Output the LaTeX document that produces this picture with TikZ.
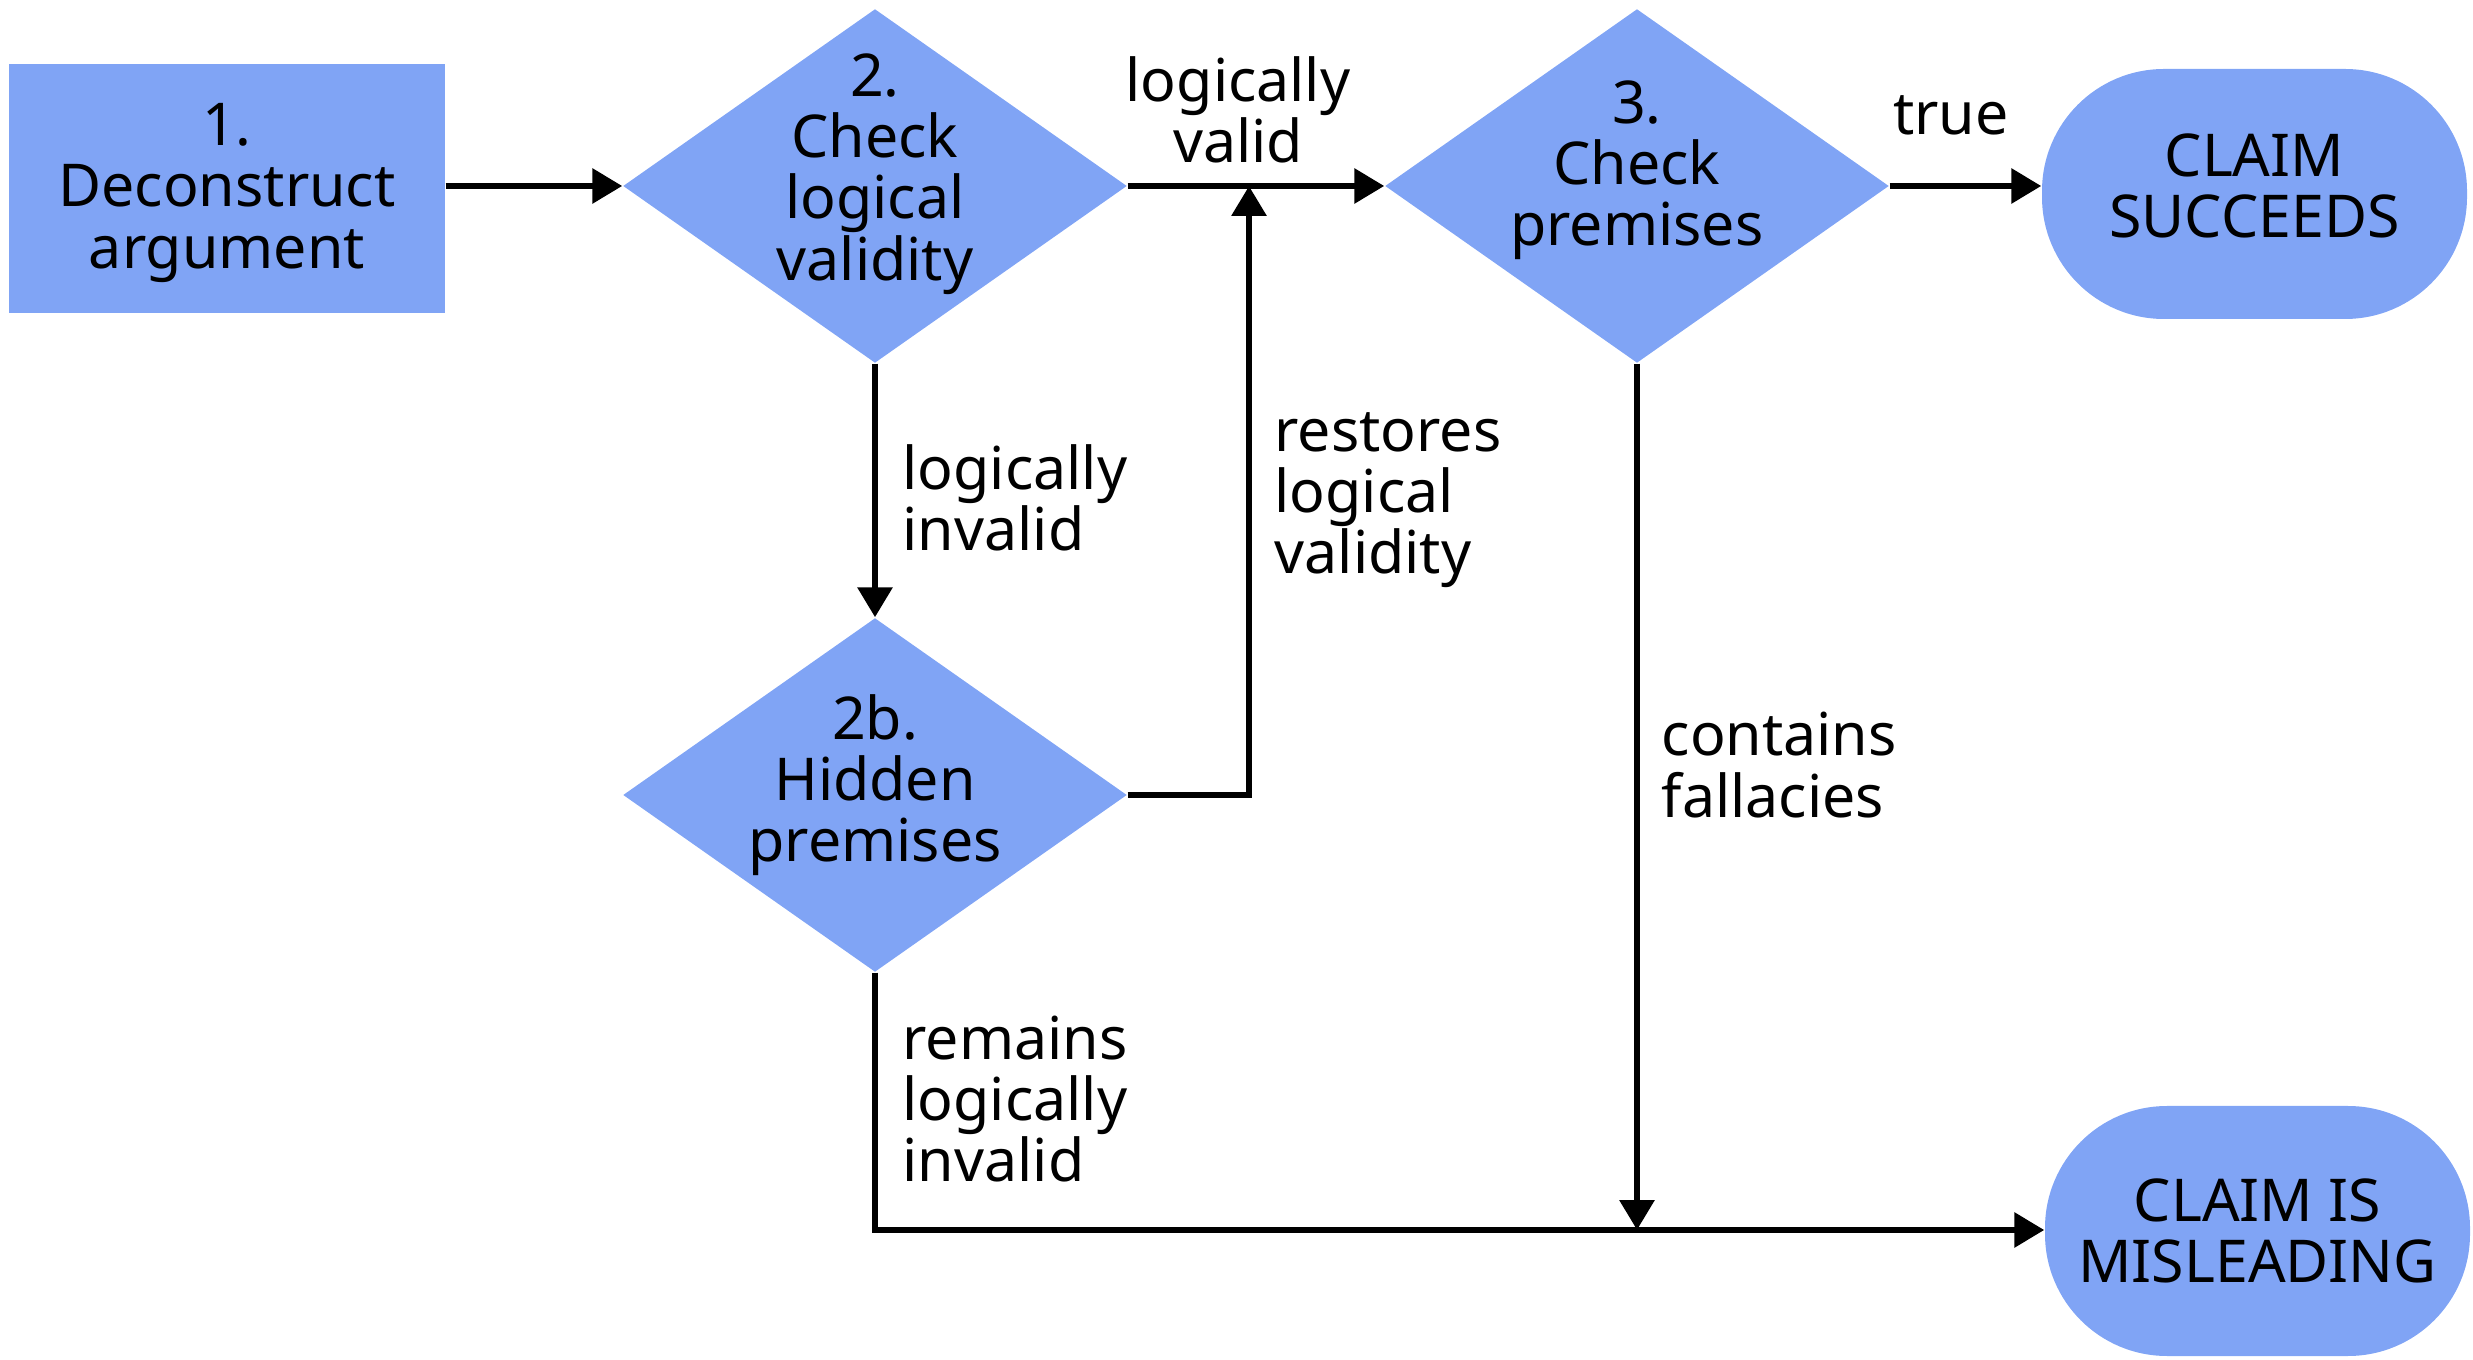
\documentclass[tikz,border=0pt]{standalone}
\usepackage{fontspec}
\setmainfont{Noto Sans}
\usetikzlibrary{shapes.geometric,arrows.meta}
\definecolor{stepblue}{RGB}{128,164,245}
\tikzset{
  txt/.style={font=\fontsize{16.8}{17.4}\selectfont, align=center, inner sep=0pt},
  lbl/.style={font=\fontsize{16.8}{17.4}\selectfont, align=left, inner sep=0pt, text=black},
  procbox/.style={draw=none, fill=stepblue, rectangle, minimum width=4.36cm, minimum height=2.49cm, txt},
  decision/.style={draw=none, fill=stepblue, diamond, minimum width=5.04cm, minimum height=3.54cm, inner sep=0pt},
  terminal/.style={draw=none, fill=stepblue, rectangle, rounded corners=1.22cm, minimum width=4.25cm, minimum height=2.5cm, txt},
  flow/.style={line width=1.85pt, -{Triangle[length=8.5pt,width=9.6pt]}},
}
\begin{document}
\begin{tikzpicture}
\useasboundingbox (0,0) rectangle (24.73,13.59);

% process and decision nodes
\node[procbox] (deconstruct) at (2.27,11.70) {};
\node[txt] (deconstructtxt) at (2.27,11.66) {1.\\Deconstruct\\argument};
\node[decision] (validity) at (8.75,11.73) {};
\node[txt] (validtxt) at (8.75,11.85) {2.\\Check\\logical\\validity};
\node[decision] (premises) at (16.37,11.73) {};
\node[txt] (premtxt) at (16.37,11.89) {3.\\Check\\premises};
\node[decision] (hidden) at (8.75,5.64) {};
\node[txt] (hiddentxt) at (8.75,5.74) {2b.\\Hidden\\premises};
\node[terminal] (succeeds) at (22.545,11.65) {};
\node[txt] (succtxt) at (22.545,11.73) {CLAIM\\SUCCEEDS};
\node[terminal] (misleading) at (22.575,1.28) {CLAIM IS\\MISLEADING};

% junction points of the orthogonal connectors
\coordinate (restore) at (12.49,11.73);
\coordinate (hiddenturn) at (12.49,5.64);
\coordinate (merge) at (16.37,1.29);
\coordinate (hiddenbottom) at (8.75,1.29);

% connectors
\draw[flow] (deconstruct.east |- validity.west) -- (validity.west);
\draw[flow] (validity.east) -- (premises.west);
\draw[flow] (validity.south) -- (hidden.north);
\draw[flow] (hidden.east) -- (hiddenturn) -- (restore);
\draw[flow] (premises.east) -- (premises.east -| succeeds.west);
\draw[flow] (premises.south) -- (merge);
\draw[flow] (hidden.south) -- (hiddenbottom) -- (hiddenbottom -| misleading.west);

% connector labels
\node[lbl, align=center] (lvalid) at (12.38,12.49) {logically\\valid};
\node[lbl, anchor=west] (linvalid) at (9.02,8.61) {logically\\invalid};
\node[lbl, anchor=west] (lrestores) at (12.74,8.59) {restores\\logical\\validity};
\node[lbl] (ltrue) at (19.51,12.44) {true};
\node[lbl, anchor=west] (lfallacies) at (16.61,5.94) {contains\\fallacies};
\node[lbl, anchor=west] (lremains) at (9.02,2.60) {remains\\logically\\invalid};
\end{tikzpicture}
\end{document}
